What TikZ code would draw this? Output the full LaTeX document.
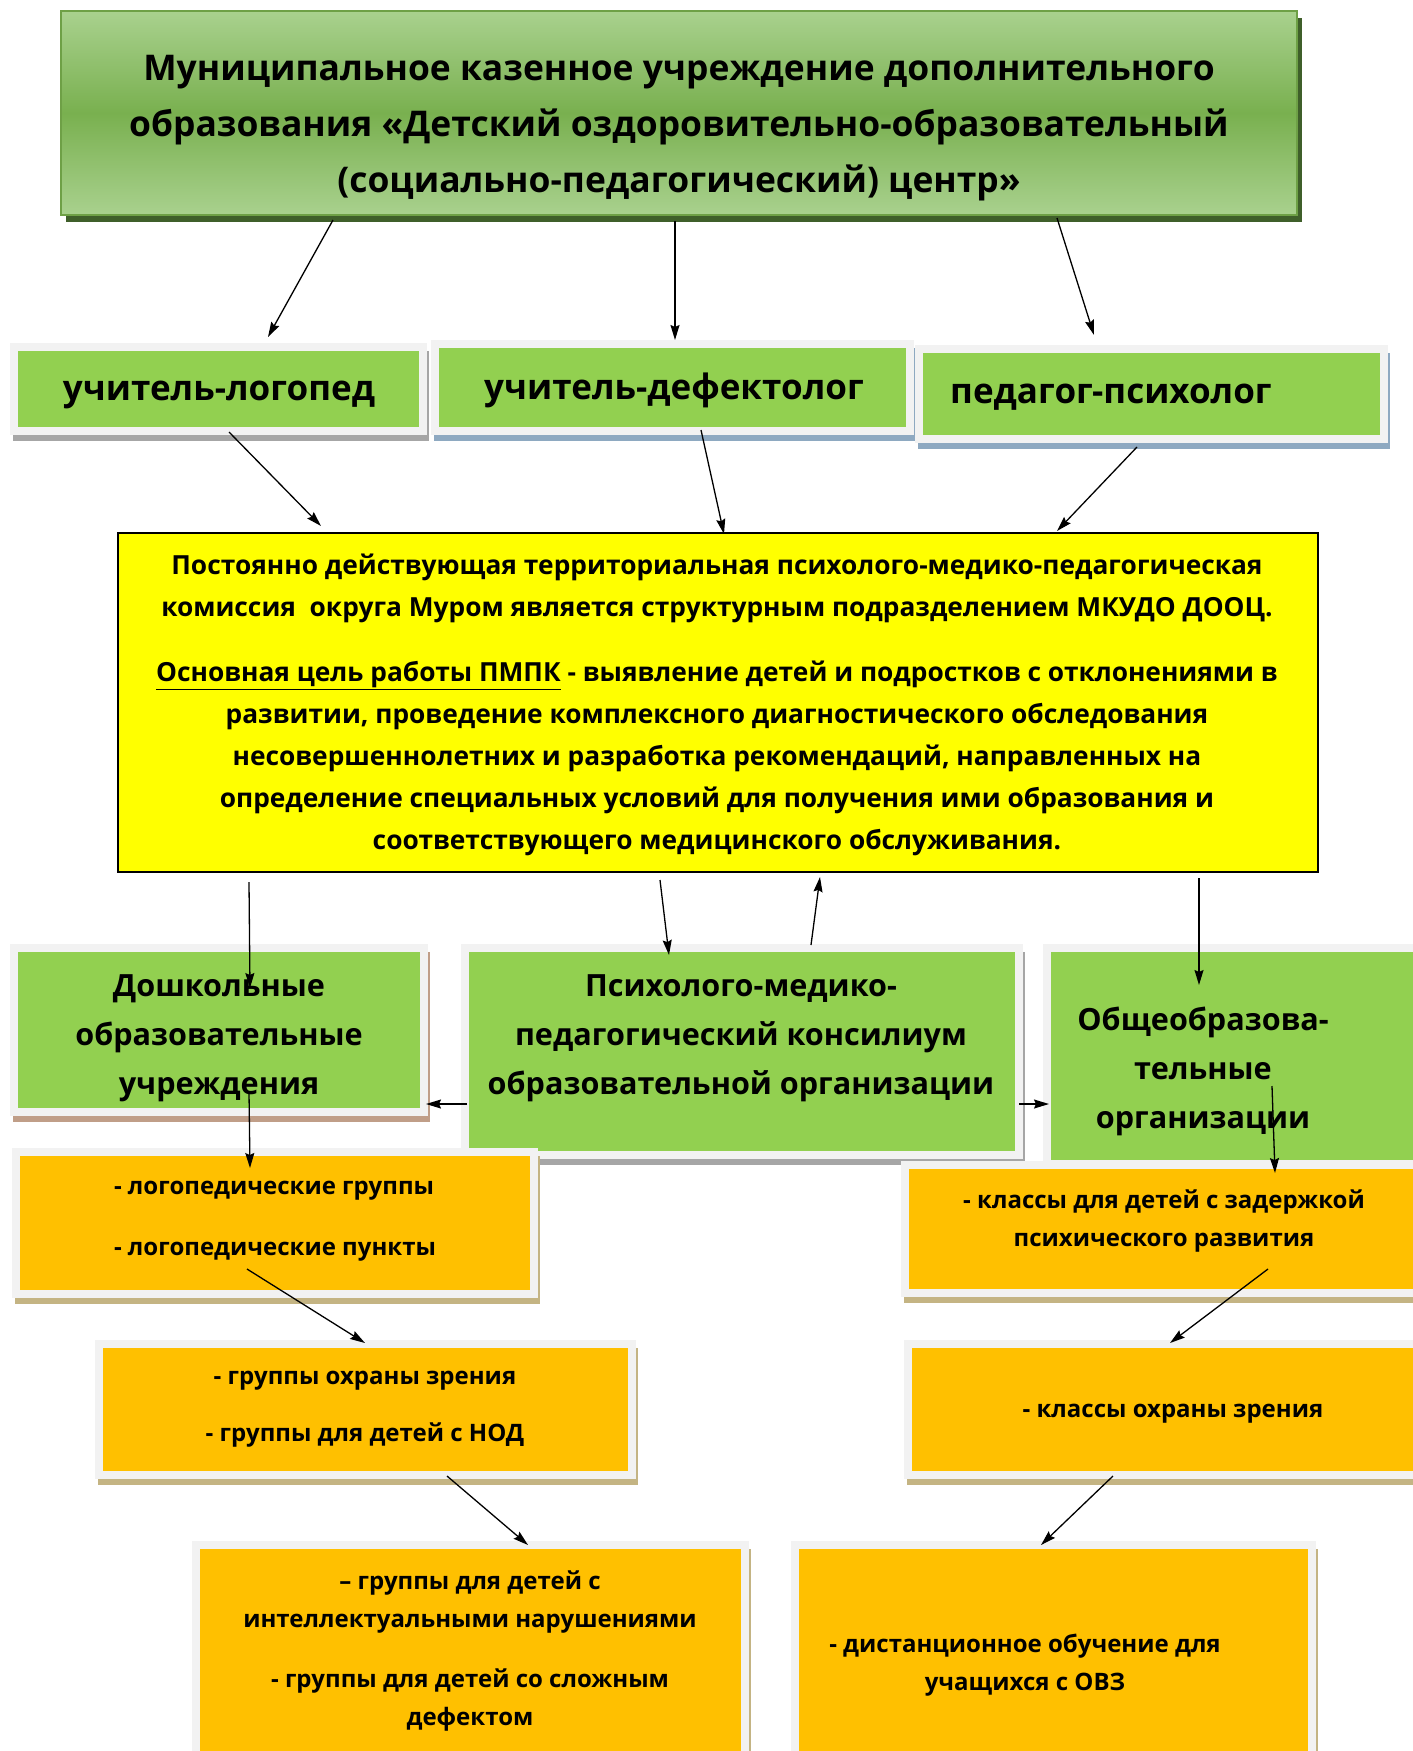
\documentclass[tikz,border=0pt]{standalone}
\usepackage{fontspec}
\setmainfont{Open Sans}
\usetikzlibrary{arrows.meta,fit}
\definecolor{gfill}{HTML}{92D050}
\definecolor{ofill}{HTML}{FFC000}
\definecolor{yfill}{HTML}{FFFF00}
\definecolor{framecol}{HTML}{F2F2F2}
\definecolor{shgrey}{HTML}{A6A6A6}
\definecolor{shblue}{HTML}{8EA9C1}
\definecolor{shbrown}{HTML}{C09E88}
\definecolor{shtan}{HTML}{C4B483}
\definecolor{tlight}{HTML}{A9D18E}
\definecolor{tdark}{HTML}{79B04F}
\definecolor{tborder}{HTML}{6EA046}
\definecolor{tshadow}{HTML}{3F5F2A}
\newcommand\panelbox[7]{%
  \coordinate (#1nw) at (#2,#3);
  \coordinate (#1se) at (#4,#5);
  \fill[#7] ([shift={(-5,0)}]#1nw) rectangle ([shift={(10,14)}]#1se);
  \fill[framecol] ([shift={(-8,-8)}]#1nw) rectangle ([shift={(8,8)}]#1se);
  \node[fit=(#1nw)(#1se), inner sep=0pt, fill=#6] (#1) {};
}
\tikzset{
  lbl/.style={align=center, inner sep=0pt, text=black},
  big/.style={font=\bfseries\fontsize{35.4}{56}\selectfont},
  row/.style={font=\bfseries\fontsize{35}{56}\selectfont},
  mid/.style={font=\bfseries\fontsize{30.6}{49}\selectfont},
  yel/.style={font=\bfseries\fontsize{26.3}{42}\selectfont},
  sml/.style={font=\bfseries\fontsize{24}{38}\selectfont},
  arr/.style={line width=1.3pt, -{Stealth[length=15pt,width=9pt,inset=2pt]}}
}
\begin{document}
\begin{tikzpicture}[x=1pt,y=-1pt]
\useasboundingbox (0,0) rectangle (1413,1751);
\fill[white] (0,0) rectangle (1413,1751);
% top box
\coordinate (topnw) at (61,11);
\coordinate (topse) at (1297,215);
\fill[tshadow] (66,18) rectangle (1302,222);
\node[fit=(topnw)(topse), inner sep=0pt, top color=tlight, bottom color=tlight, middle color=tdark, draw=tborder, line width=2pt] (top) {};
\node[lbl, big] (toptext) at (679,128) {Муниципальное казенное учреждение дополнительного\\образования «Детский оздоровительно-образовательный\\(социально-педагогический) центр»};
% row 2
\panelbox{lp}{18}{351}{419}{427}{gfill}{shgrey}
\panelbox{df}{439}{348}{906}{427}{gfill}{shblue}
\panelbox{ps}{923}{353}{1380}{435}{gfill}{shblue}
\node[lbl, row] (lptext) at (219,395) {учитель-логопед};
\node[lbl, row] (dftext) at (674,390) {учитель-дефектолог};
\node[lbl, row, anchor=west] (pstext) at (950,397) {педагог-психолог};
% yellow
\coordinate (yelnw) at (118,533);
\coordinate (yelse) at (1318,872);
\node[fit=(yelnw)(yelse), inner sep=0pt, fill=yfill, draw=black, line width=2pt] (yelbox) {};
\node[lbl, yel] (yeltext) at (717,705) {Постоянно действующая территориальная психолого-медико-педагогическая\\комиссия\ \ округа Муром является структурным подразделением МКУДО ДООЦ.\\[23pt]\underline{Основная цель работы ПМПК} - выявление детей и подростков с отклонениями в\\развитии, проведение комплексного диагностического обследования\\несовершеннолетних и разработка рекомендаций, направленных на\\определение специальных условий для получения ими образования и\\соответствующего медицинского обслуживания.};
% row 4
\panelbox{do}{18}{952}{420}{1108}{gfill}{shbrown}
\panelbox{pm}{469}{952}{1015}{1151}{gfill}{shgrey}
\panelbox{ob}{1051}{952}{1450}{1160}{gfill}{shgrey}
\node[lbl, mid] (dotext) at (219,1038) {Дошкольные\\образовательные\\учреждения};
\node[lbl, mid] (pmtext) at (741,1038) {Психолого-медико-\\педагогический консилиум\\образовательной организации};
\node[lbl, mid] (obtext) at (1203,1071) {Общеобразова-\\тельные\\организации};
% orange
\panelbox{o1}{20}{1156}{530}{1290}{ofill}{shtan}
\panelbox{o2}{909}{1169}{1450}{1289}{ofill}{shtan}
\panelbox{o3}{103}{1348}{628}{1471}{ofill}{shtan}
\panelbox{o4}{912}{1348}{1450}{1471}{ofill}{shtan}
\panelbox{o5}{200}{1549}{741}{1770}{ofill}{shtan}
\panelbox{o6}{799}{1549}{1308}{1770}{ofill}{shtan}
\node[lbl, sml, align=left] (o1text) at (275,1221) {- логопедические группы\\[23pt]- логопедические пункты};
\node[lbl, sml] (o2text) at (1164,1221) {- классы для детей с задержкой\\психического развития};
\node[lbl, sml] (o3text) at (365,1409) {- группы охраны зрения\\[19pt]- группы для детей с НОД};
\node[lbl, sml] (o4text) at (1173,1414) {- классы охраны зрения};
\node[lbl, sml] (o5text) at (470,1651) {– группы для детей с\\интеллектуальными нарушениями\\[22pt]- группы для детей со сложным\\дефектом};
\node[lbl, sml] (o6text) at (1025,1665) {- дистанционное обучение для\\учащихся с ОВЗ};
% arrow end points
\coordinate (a1s) at (333,220);  \coordinate (a1e) at (268,337);
\coordinate (a2s) at (675,221);  \coordinate (a2e) at (675,340);
\coordinate (a3s) at (1057,218); \coordinate (a3e) at (1094,335);
\coordinate (a4s) at (229,432);  \coordinate (a4e) at (321,526);
\coordinate (a5s) at (701,430);  \coordinate (a5e) at (724,534);
\coordinate (a6s) at (1137,447); \coordinate (a6e) at (1057,531);
\coordinate (a7s) at (249,882);  \coordinate (a7e) at (250,988);
\coordinate (a8s) at (660,880);  \coordinate (a8e) at (669,955);
\coordinate (a9s) at (811,945);  \coordinate (a9e) at (820,877);
\coordinate (a10s) at (1199,878); \coordinate (a10e) at (1199,985);
\coordinate (a11s) at (467,1104); \coordinate (a11e) at (426,1104);
\coordinate (a12s) at (1019,1104); \coordinate (a12e) at (1049,1104);
\coordinate (a13s) at (249,1092); \coordinate (a13e) at (250,1168);
\coordinate (a14s) at (1272,1086); \coordinate (a14e) at (1275,1173);
\coordinate (a15s) at (247,1269); \coordinate (a15e) at (365,1343);
\coordinate (a16s) at (1268,1269); \coordinate (a16e) at (1170,1343);
\coordinate (a17s) at (447,1476); \coordinate (a17e) at (528,1545);
\coordinate (a18s) at (1113,1476); \coordinate (a18e) at (1041,1545);
\foreach \i in {1,...,18} {\draw[arr] (a\i s) -- (a\i e);}
\end{tikzpicture}
\end{document}
